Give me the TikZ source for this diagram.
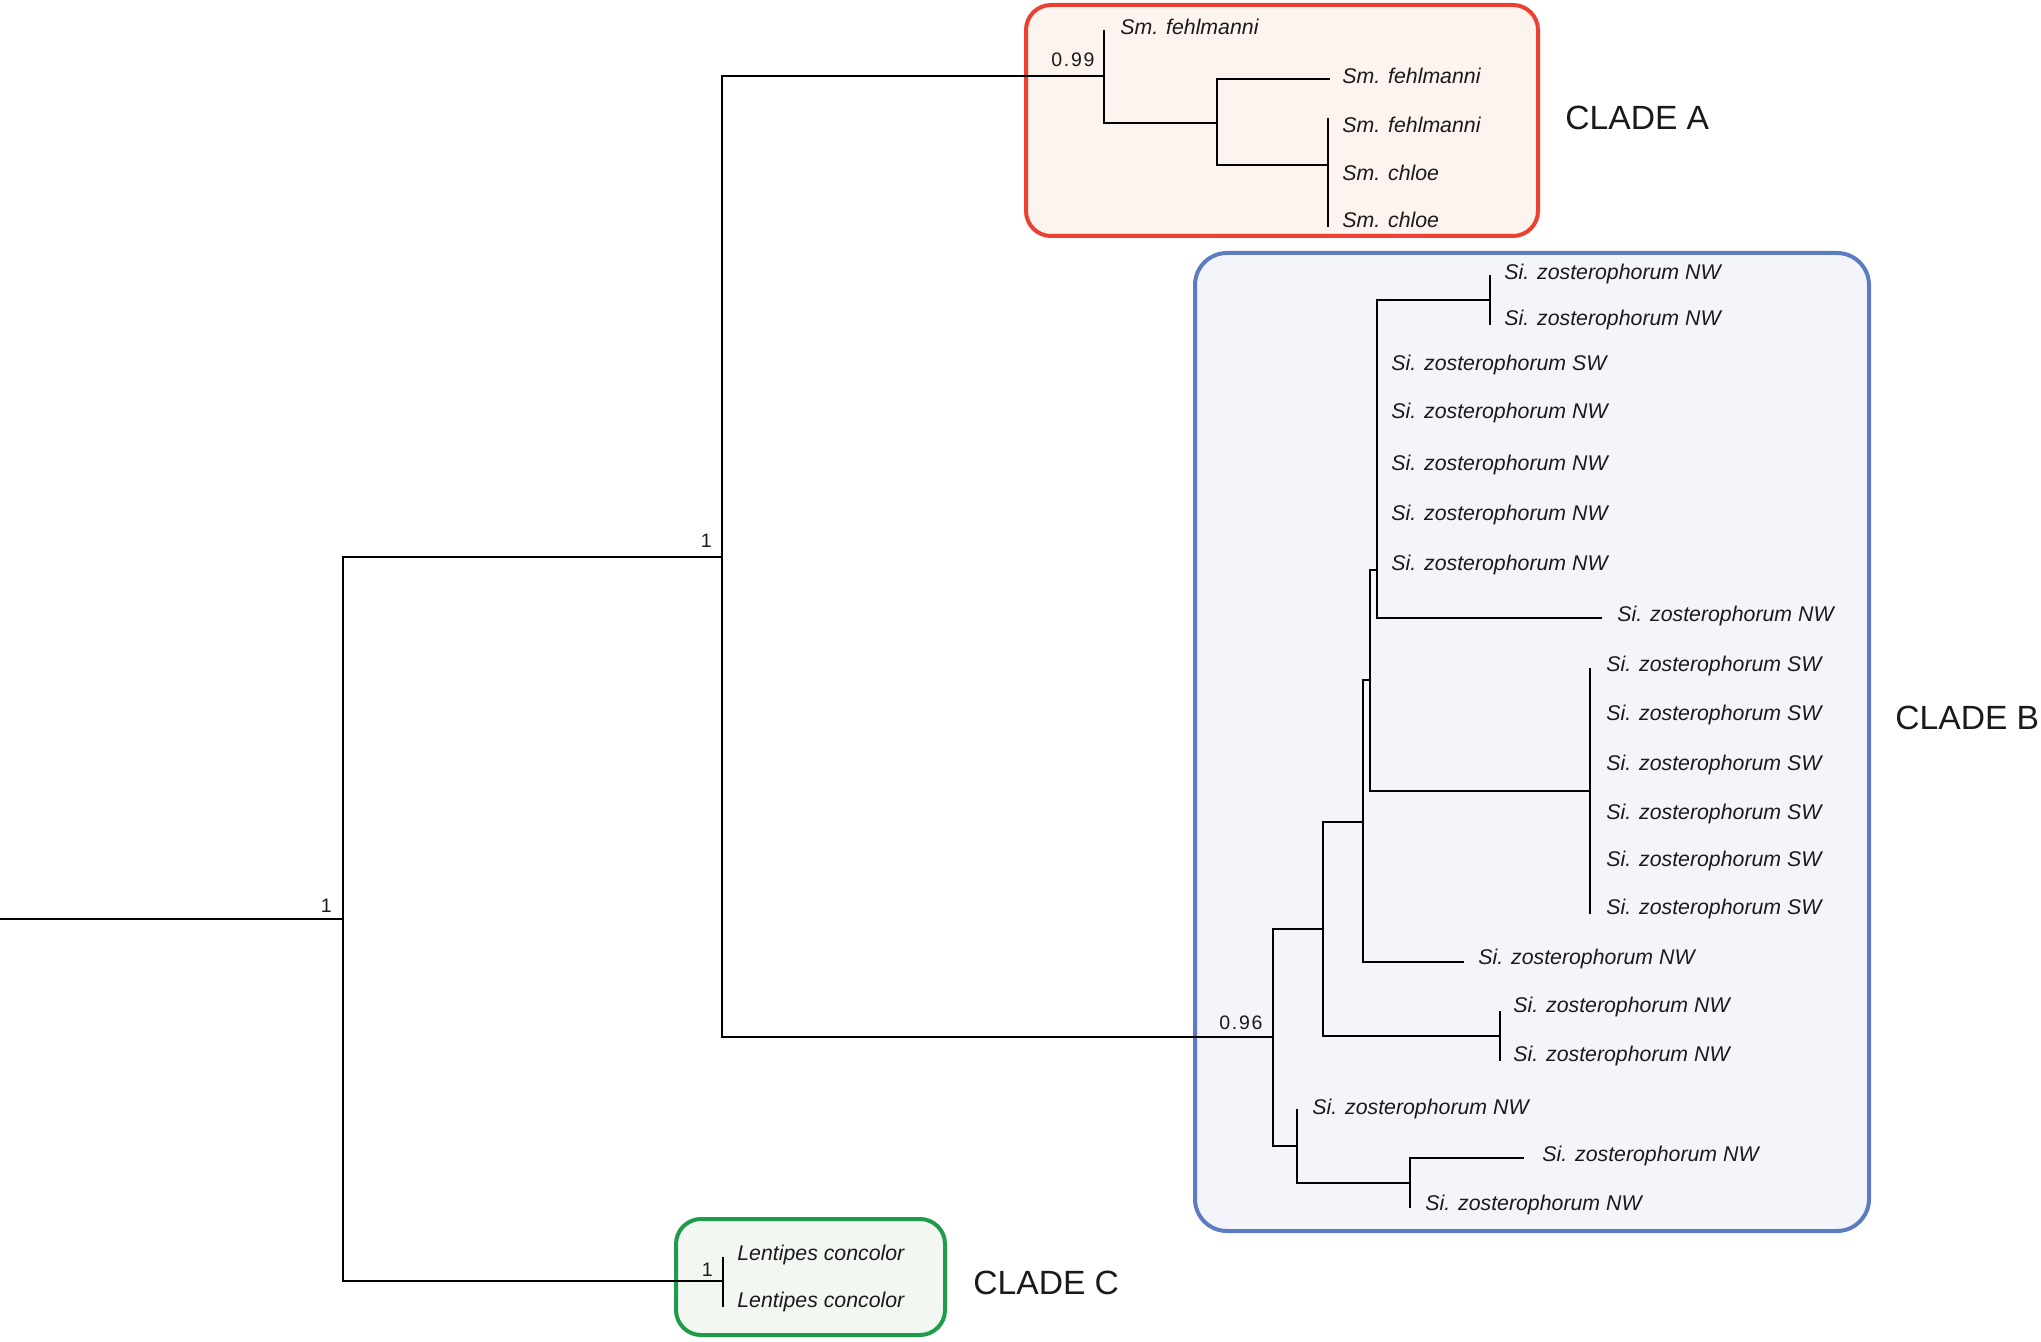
\documentclass[tikz,border=0pt]{standalone}
\usepackage{fontspec}
\setmainfont{Liberation Sans}
\usetikzlibrary{calc}
\definecolor{txt}{HTML}{1A1A1A}
\definecolor{redline}{HTML}{EC4132}
\definecolor{redfill}{HTML}{FDF3EF}
\definecolor{blueline}{HTML}{5B7CC0}
\definecolor{bluefill}{HTML}{F4F5FB}
\definecolor{greenline}{HTML}{1F9B4A}
\definecolor{greenfill}{HTML}{F2F7F1}
\newcommand{\leaffont}{\fontsize{10.65pt}{12pt}\selectfont\itshape}
\newcommand{\suppfont}{\addfontfeatures{LetterSpace=9}\fontsize{9.75pt}{11pt}\selectfont}
\newcommand{\cladefont}{\fontsize{16.8pt}{19pt}\selectfont}
\begin{document}
\begin{tikzpicture}[x=0.5pt,y=-0.5pt,
  leaf/.style={anchor=base west, inner sep=0pt, font=\leaffont, text=txt},
  supp/.style={anchor=base east, inner sep=0pt, font=\suppfont, text=txt},
  cladelabel/.style={anchor=base west, inner sep=0pt, font=\cladefont, text=txt},
  branch/.style={line width=1pt, black},
  cladebox/.style={line width=2pt}]
\useasboundingbox (0,0) rectangle (2041,1342);
\fill[white] (0,0) rectangle (2041,1342);

% clade boxes
\draw[cladebox, draw=redline, fill=redfill, rounded corners=12.5pt] (1026,5) rectangle (1538,236);
\draw[cladebox, draw=blueline, fill=bluefill, rounded corners=16pt] (1195,253) rectangle (1869,1231);
\draw[cladebox, draw=greenline, fill=greenfill, rounded corners=12.5pt] (676,1219) rectangle (945,1335);

% internal nodes
\coordinate (R) at (0,919);
\coordinate (N0) at (343,919);
\coordinate (N1) at (722,557);
\coordinate (NC) at (723,1281);
\coordinate (NA) at (1104,76);
\coordinate (NA2) at (1217,123);
\coordinate (NA3) at (1328,165);
\coordinate (NB0) at (1273,1037);
\coordinate (NB1) at (1323,929);
\coordinate (NB2) at (1363,822);
\coordinate (NB3) at (1370,680);
\coordinate (NB5) at (1377,570);
\coordinate (NB6) at (1490,300);
\coordinate (NSW) at (1590,791);
\coordinate (NP) at (1500,1036);
\coordinate (NB7) at (1297,1146);
\coordinate (NB8) at (1410,1183);

% tips
\coordinate (ta1) at (1104,30);
\coordinate (ta2) at (1330,79);
\coordinate (ta3) at (1328,118);
\coordinate (ta5) at (1328,227);
\coordinate (tb1) at (1490,275);
\coordinate (tb2) at (1490,325);
\coordinate (tb8) at (1602,618);
\coordinate (tsw1) at (1590,668);
\coordinate (tsw6) at (1590,914);
\coordinate (tb9) at (1464,962);
\coordinate (tp1) at (1500,1011);
\coordinate (tp2) at (1500,1061);
\coordinate (tb10) at (1297,1109);
\coordinate (tb11) at (1524,1158);
\coordinate (tb12) at (1410,1208);
\coordinate (tc1) at (723,1257);
\coordinate (tc2) at (723,1307);

% branches
\draw[branch] (R) -- (N0);
\draw[branch] (N0) |- (N1);
\draw[branch] (N0) |- (NC);
\draw[branch] (N1) |- (NA);
\draw[branch] (N1) |- (NB0);
\draw[branch] (NC) -- (tc1);
\draw[branch] (NC) -- (tc2);
\draw[branch] (NA) -- (ta1);
\draw[branch] (NA) |- (NA2);
\draw[branch] (NA2) |- (ta2);
\draw[branch] (NA2) |- (NA3);
\draw[branch] (NA3) -- (ta3);
\draw[branch] (NA3) -- (ta5);
\draw[branch] (NB0) |- (NB1);
\draw[branch] (NB0) |- (NB7);
\draw[branch] (NB1) |- (NB2);
\draw[branch] (NB1) |- (NP);
\draw[branch] (NB2) |- (NB3);
\draw[branch] (NB2) |- (tb9);
\draw[branch] (NB3) |- (NB5);
\draw[branch] (NB3) |- (NSW);
\draw[branch] (NB5) |- (NB6);
\draw[branch] (NB5) |- (tb8);
\draw[branch] (NB6) -- (tb1);
\draw[branch] (NB6) -- (tb2);
\draw[branch] (NSW) -- (tsw1);
\draw[branch] (NSW) -- (tsw6);
\draw[branch] (NP) -- (tp1);
\draw[branch] (NP) -- (tp2);
\draw[branch] (NB7) -- (tb10);
\draw[branch] (NB7) |- (NB8);
\draw[branch] (NB8) |- (tb11);
\draw[branch] (NB8) -- (tb12);

% support values
\node[supp] (s0) at ($(N0)+(-11,-7)$) {1};
\node[supp] (s1) at ($(N1)+(-10,-9)$) {1};
\node[supp] (sc) at ($(NC)+(-10,-5)$) {1};
\node[supp] (sa) at ($(NA)+(-9,-9)$) {0.99};
\node[supp] (sb) at ($(NB0)+(-10,-8)$) {0.96};

% leaf labels clade A
\node[leaf] (a1) at (1120,34.5) {Sm. fehlmanni};
\node[leaf] (a2) at (1342,83.5) {Sm. fehlmanni};
\node[leaf] (a3) at (1342,132.5) {Sm. fehlmanni};
\node[leaf] (a4) at (1342,180.5) {Sm. chloe};
\node[leaf] (a5) at (1342,227.5) {Sm. chloe};

% leaf labels clade B
\node[leaf] (b1) at (1504,279.5) {Si. zosterophorum NW};
\node[leaf] (b2) at (1504,325.5) {Si. zosterophorum NW};
\node[leaf] (b3) at (1391,370.5) {Si. zosterophorum SW};
\node[leaf] (b4) at (1391,418.5) {Si. zosterophorum NW};
\node[leaf] (b5) at (1391,470.5) {Si. zosterophorum NW};
\node[leaf] (b6) at (1391,520.5) {Si. zosterophorum NW};
\node[leaf] (b7) at (1391,570.5) {Si. zosterophorum NW};
\node[leaf] (b8) at (1617,621.5) {Si. zosterophorum NW};
\node[leaf] (b9) at (1606,671.5) {Si. zosterophorum SW};
\node[leaf] (b10) at (1606,720.5) {Si. zosterophorum SW};
\node[leaf] (b11) at (1606,770.5) {Si. zosterophorum SW};
\node[leaf] (b12) at (1606,819.5) {Si. zosterophorum SW};
\node[leaf] (b13) at (1606,866.5) {Si. zosterophorum SW};
\node[leaf] (b14) at (1606,914.5) {Si. zosterophorum SW};
\node[leaf] (b15) at (1478,964.5) {Si. zosterophorum NW};
\node[leaf] (b16) at (1513,1012.5) {Si. zosterophorum NW};
\node[leaf] (b17) at (1513,1061.5) {Si. zosterophorum NW};
\node[leaf] (b18) at (1312,1114.5) {Si. zosterophorum NW};
\node[leaf] (b19) at (1542,1161.5) {Si. zosterophorum NW};
\node[leaf] (b20) at (1425,1210.5) {Si. zosterophorum NW};

% leaf labels clade C
\node[leaf] (c1) at (737,1260.5) {Lentipes concolor};
\node[leaf] (c2) at (737,1307.5) {Lentipes concolor};

% clade names
\node[cladelabel] (cA) at (1565,130) {CLADE A};
\node[cladelabel] (cB) at (1895,729) {CLADE B};
\node[cladelabel] (cC) at (973,1294) {CLADE C};
\end{tikzpicture}
\end{document}
